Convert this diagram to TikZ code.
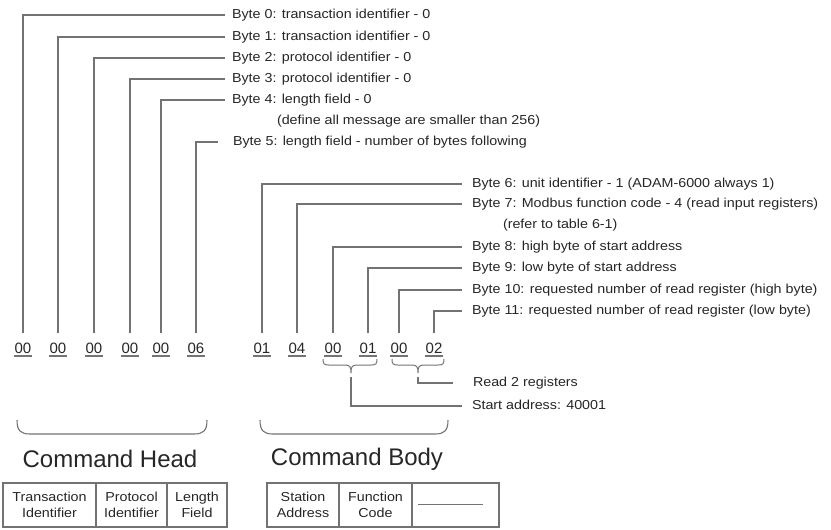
\documentclass[tikz,border=0pt]{standalone}
\usepackage{fontspec}
\setmainfont{Liberation Sans}
\newfontfamily\lblfont[FakeStretch=1.1]{Liberation Sans}
\newcommand\lbltxt{\lblfont\fontsize{13}{16}\selectfont}
\newcommand\numtxt{\fontsize{15}{18}\selectfont}
\newcommand\bigtxt{\fontsize{24}{28}\selectfont}
\begin{document}
\begin{tikzpicture}[x=1pt,y=-1pt,
  lead/.style={draw=black!55, line width=1.1pt},
  ul/.style={draw=black!55, line width=1.3pt},
  lbl/.style={font=\lbltxt, text=black!85, anchor=west, inner sep=0pt,
    outer xsep=7pt, outer ysep=0pt, text height=9.5pt, text depth=2.5pt},
  num/.style={font=\numtxt, text=black!85, anchor=base, inner sep=0pt,
    outer xsep=0pt, outer ysep=9pt, text height=11pt, text depth=0pt},
  title/.style={font=\bigtxt, text=black!85, inner sep=0pt},
  cell/.style={draw=black!55, line width=1.1pt, font=\lbltxt, text=black!85,
    align=center, minimum height=44pt, inner sep=0pt}]
\useasboundingbox (0,0) rectangle (831,530);

% ---- byte values
\node[num] (h0) at (23,353)  {00};
\node[num] (h1) at (58,353)  {00};
\node[num] (h2) at (94,353)  {00};
\node[num] (h3) at (130,353) {00};
\node[num] (h4) at (161,353) {00};
\node[num] (h5) at (196,353) {06};
\node[num] (d6) at (262,353) {01};
\node[num] (d7) at (297,353) {04};
\node[num] (d8) at (333,353) {00};
\node[num] (d9) at (368,353) {01};
\node[num] (d10) at (399,353) {00};
\node[num] (d11) at (434,353) {02};
\foreach \n in {h0,h1,h2,h3,h4,h5,d6,d7,d8,d9,d10,d11}
  \draw[ul] ([xshift=-1pt,yshift=-3pt]\n.base west) -- ([xshift=1pt,yshift=-3pt]\n.base east);

% ---- header descriptions
\node[lbl] (b0) at (225,15)  {Byte 0: transaction identifier - 0};
\node[lbl] (b1) at (225,37)  {Byte 1: transaction identifier - 0};
\node[lbl] (b2) at (225,58)  {Byte 2: protocol identifier - 0};
\node[lbl] (b3) at (225,79)  {Byte 3: protocol identifier - 0};
\node[lbl] (b4) at (225,100) {Byte 4: length field - 0};
\node[lbl, outer xsep=0pt] (b4x) at (277,121) {(define all message are smaller than 256)};
\node[lbl, outer xsep=15pt] (b5) at (218,142) {Byte 5: length field - number of bytes following};

% ---- body descriptions
\node[lbl, outer xsep=10pt] (b6) at (462,184) {Byte 6: unit identifier - 1 (ADAM-6000 always 1)};
\node[lbl, outer xsep=10pt] (b7) at (462,204) {Byte 7: Modbus function code - 4 (read input registers)};
\node[lbl, outer xsep=0pt] (b7x) at (503,225) {(refer to table 6-1)};
\node[lbl, outer xsep=10pt] (b8) at (462,247) {Byte 8: high byte of start address};
\node[lbl, outer xsep=10pt] (b9) at (462,268) {Byte 9: low byte of start address};
\node[lbl, outer xsep=10pt] (b10) at (462,290) {Byte 10: requested number of read register (high byte)};
\node[lbl, outer xsep=10pt] (b11) at (462,311) {Byte 11: requested number of read register (low byte)};

% ---- leaders
\draw[lead] (h0.north) |- (b0.west);
\draw[lead] (h1.north) |- (b1.west);
\draw[lead] (h2.north) |- (b2.west);
\draw[lead] (h3.north) |- (b3.west);
\draw[lead] (h4.north) |- (b4.west);
\draw[lead] (h5.north) |- (b5.west);
\draw[lead] (d6.north) |- (b6.west);
\draw[lead] (d7.north) |- (b7.west);
\draw[lead] (d8.north) |- (b8.west);
\draw[lead] (d9.north) |- (b9.west);
\draw[lead] (d10.north) |- (b10.west);
\draw[lead] (d11.north) |- (b11.west);

% ---- small braces
\draw[lead, line width=1pt] (323,359) .. controls (323,364) and (324,365) .. (329,365) -- (345,365)
  .. controls (350,365) and (351,367) .. (351,373)
  .. controls (351,367) and (352,365) .. (357,365) -- (371,365)
  .. controls (376,365) and (377,364) .. (377,359);
\draw[lead, line width=1pt] (392,359) .. controls (392,364) and (393,365) .. (398,365) -- (412,365)
  .. controls (417,365) and (418,367) .. (418,373)
  .. controls (418,367) and (419,365) .. (424,365) -- (438,365)
  .. controls (443,365) and (444,364) .. (444,359);
\coordinate (bt1) at (351,377);
\coordinate (bt2) at (418,377);
\node[lbl, outer xsep=20pt] (rr) at (453,383) {Read 2 registers};
\node[lbl, outer xsep=10pt] (sa) at (462,406) {Start address: 40001};
\draw[lead] (bt2) |- (rr.west);
\draw[lead] (bt1) |- (sa.west);

% ---- big braces
\draw[lead] (17,420) .. controls (17,431) and (21,434) .. (30,434) -- (194,434)
  .. controls (203,434) and (207,431) .. (207,420);
\draw[lead] (260,420) .. controls (260,431) and (264,434) .. (273,434) -- (435,434)
  .. controls (444,434) and (448,431) .. (448,420);
\node[title] (ch) at (110,459) {Command Head};
\node[title] (cb) at (357,459) {Command Body};

% ---- tables
\node[cell, minimum width=93pt] (t1) at (49.5,505) {Transaction\\Identifier};
\node[cell, minimum width=71pt] (t2) at (131.5,505) {Protocol\\Identifier};
\node[cell, minimum width=60pt] (t3) at (197,505) {Length\\Field};
\node[cell, minimum width=72pt] (t4) at (303,505) {Station\\Address};
\node[cell, minimum width=73pt] (t5) at (375.5,505) {Function\\Code};
\node[cell, minimum width=87pt] (t6) at (455.5,505) {};
\draw[draw=black!55, line width=0.8pt] (418,504) -- (483,504);
\end{tikzpicture}
\end{document}
